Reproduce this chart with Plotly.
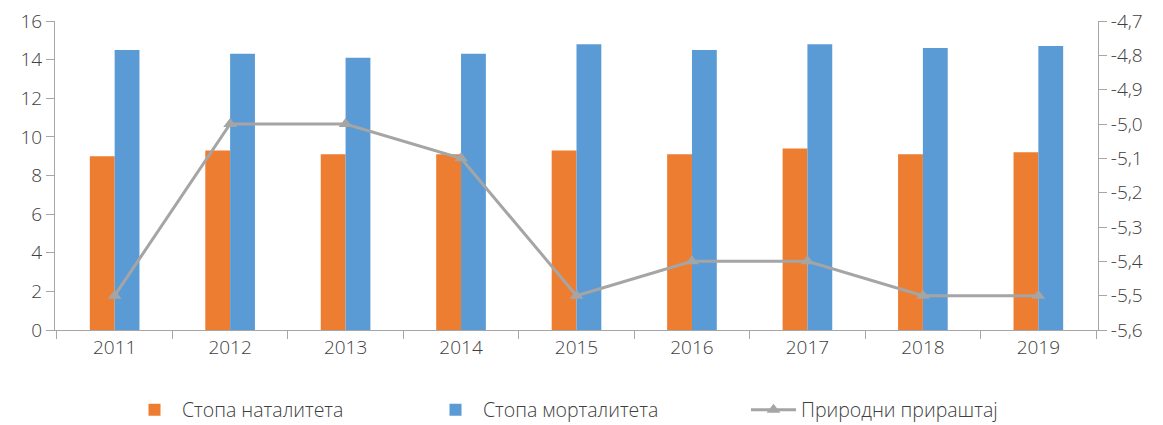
import plotly.graph_objects as go

years = ["2011", "2012", "2013", "2014", "2015", "2016", "2017", "2018", "2019"]
birth_rate = [9.0, 9.3, 9.1, 9.1, 9.3, 9.1, 9.4, 9.1, 9.2]
death_rate = [14.5, 14.3, 14.1, 14.3, 14.8, 14.5, 14.8, 14.6, 14.7]
natural_increase = [-5.5, -5.0, -5.0, -5.1, -5.5, -5.4, -5.4, -5.5, -5.5]
right_tick_values = [-5.6, -5.5, -5.4, -5.3, -5.2, -5.1, -5.0, -4.9, -4.8, -4.7]
right_tick_labels = ["-5,6", "-5,5", "-5,4", "-5,3", "-5,2", "-5,1", "-5,0", "-4,9", "-4,8", "-4,7"]

font_family = "Open Sans"
text_color = "#404040"
axis_color = "#A6A6A6"
fs = 19
fw = 300

# page body has an 8px margin, so the figure is slightly smaller than the window
W, H = 1155, 417

fig = go.Figure()
fig.add_trace(go.Bar(x=years, y=birth_rate, name="Стопа наталитета",
                     marker=dict(color="#ED7D31", line=dict(width=0)), legend="legend"))
fig.add_trace(go.Bar(x=years, y=death_rate, name="Стопа морталитета",
                     marker=dict(color="#5B9BD5", line=dict(width=0)), legend="legend2"))
fig.add_trace(go.Scatter(x=years, y=natural_increase, name="Природни прираштај",
                         yaxis="y2", mode="lines+markers",
                         line=dict(color="#A5A5A5", width=3),
                         marker=dict(symbol="triangle-up", size=12, color="#A5A5A5"),
                         legend="legend3"))

tf = dict(family=font_family, size=fs, color=text_color, weight=fw)
lf = dict(family=font_family, size=19.5, color=text_color, weight=fw)

leg_common = dict(orientation="h", yref="container", y=15 / H, yanchor="middle",
                  xanchor="left", xref="container", font=lf,
                  bgcolor="rgba(0,0,0,0)", itemwidth=45)

fig.update_layout(
    width=W, height=H,
    margin=dict(l=47, r=65, t=13, b=95, autoexpand=False),
    paper_bgcolor="white", plot_bgcolor="white",
    barmode="group", bargap=0.57, bargroupgap=0,
    font=tf,
    xaxis=dict(type="category", showline=True, linecolor=axis_color, linewidth=1,
               ticks="outside", tickson="boundaries", ticklen=8, tickcolor=axis_color,
               showgrid=False, automargin=False, tickfont=tf, ticklabeloverflow="allow"),
    yaxis=dict(range=[0, 16], dtick=2, showline=True, linecolor=axis_color, linewidth=1,
               ticks="outside", ticklen=8, tickcolor=axis_color, showgrid=False,
               zeroline=False, automargin=False, tickfont=tf, ticklabeloverflow="allow"),
    yaxis2=dict(range=[-5.6, -4.7], tickmode="array", tickvals=right_tick_values,
                ticktext=right_tick_labels,
                overlaying="y", side="right", showline=True, linecolor=axis_color,
                linewidth=1, ticks="outside", ticklen=8, tickcolor=axis_color,
                showgrid=False, zeroline=False, automargin=False,
                tickfont=tf, ticklabeloverflow="allow"),
    legend=dict(leg_common, x=119 / W),
    legend2=dict(leg_common, x=420 / W),
    legend3=dict(leg_common, x=738 / W),
    showlegend=True,
)

fig.write_html("out.html")
